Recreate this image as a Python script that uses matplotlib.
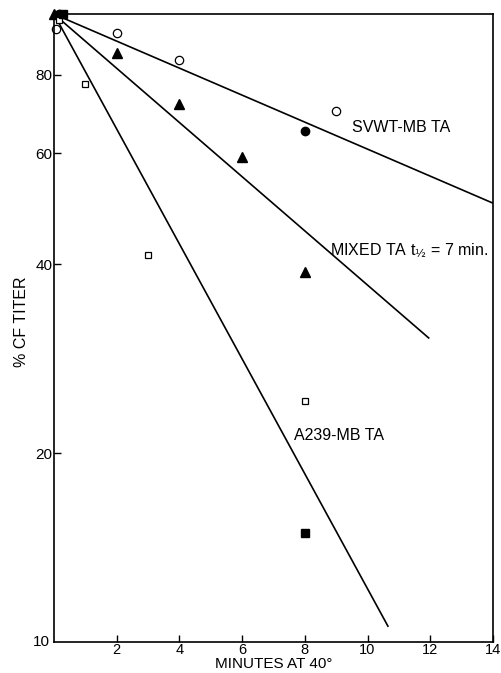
import numpy as np
import matplotlib.pyplot as plt
from matplotlib import rcParams

rcParams['font.family'] = 'Liberation Sans'
rcParams['font.size'] = 11.5

# SVWT-MB TA (open circles = one run, filled = other)
svwt_open_x = [0.05, 2, 4, 9]
svwt_open_y = [94.6, 93.2, 84.4, 70.2]
svwt_fill_x = [0.15, 8]
svwt_fill_y = [100, 65.2]

# MIXED TA (filled triangles)
mixed_x = [0, 2, 4, 6, 8]
mixed_y = [100, 86.6, 71.8, 59.3, 38.9]

# A239-MB TA (open squares / filled squares)
a239_open_x = [0.15, 1, 3, 8]
a239_open_y = [97.8, 77.3, 41.3, 24.2]
a239_fill_x = [0.3, 8]
a239_fill_y = [100, 14.9]

# fitted lines (start, end)
svwt_line_x = [0, 14]
svwt_line_y = [100, 50]
mixed_line_x = [0, 11.95]
mixed_line_y = [100, 30.5]
a239_line_x = [0, 10.65]
a239_line_y = [100, 10.6]

fig = plt.figure(figsize=(5.02, 6.73), dpi=100)
ax = fig.add_axes([0.1076, 0.046, 0.8744, 0.933])

ax.plot(svwt_line_x, svwt_line_y, color='black', lw=1.2)
ax.plot(mixed_line_x, mixed_line_y, color='black', lw=1.2)
ax.plot(a239_line_x, a239_line_y, color='black', lw=1.2)

ax.plot(svwt_open_x, svwt_open_y, 'o', mfc='white', mec='black', ms=6, mew=0.9, clip_on=False)
ax.plot(svwt_fill_x, svwt_fill_y, 'o', color='black', ms=6, clip_on=False)
ax.plot(mixed_x, mixed_y, '^', color='black', ms=7, clip_on=False)
ax.plot(a239_open_x, a239_open_y, 's', mfc='white', mec='black', ms=5, mew=0.9, clip_on=False)
ax.plot(a239_fill_x, a239_fill_y, 's', color='black', ms=5.5, clip_on=False)

ax.text(9.5, 65.9, 'SVWT-MB TA', va='center', ha='left')
ax.text(8.8, 42.1, 'MIXED TA t$_{½}$ = 7 min.', va='center', ha='left')
ax.text(7.67, 21.3, 'A239-MB TA', va='center', ha='left')

ax.set_yscale('log')
ax.set_xlim(0, 14)
ax.set_ylim(10, 100)
ax.set_xticks([2, 4, 6, 8, 10, 12, 14])
ax.set_yticks([20, 40, 60, 80])
ax.set_yticklabels(['20', '40', '60', '80'])
ax.minorticks_off()
ax.tick_params(direction='in', length=5, width=1, labelsize=11)
ax.tick_params(axis='x', pad=0.5, labelsize=10.5)
ax.tick_params(axis='y', pad=1)
ax.text(-0.12, 10, '10', ha='right', va='center', fontsize=11)

for s in ax.spines.values():
    s.set_linewidth(1.2)

ax.set_xlabel('MINUTES AT 40°', labelpad=0, fontsize=11)
ax.set_ylabel('% CF TITER', labelpad=5)
ax.yaxis.set_label_coords(-0.057, 0.51)

plt.savefig('out.png', dpi=100)
